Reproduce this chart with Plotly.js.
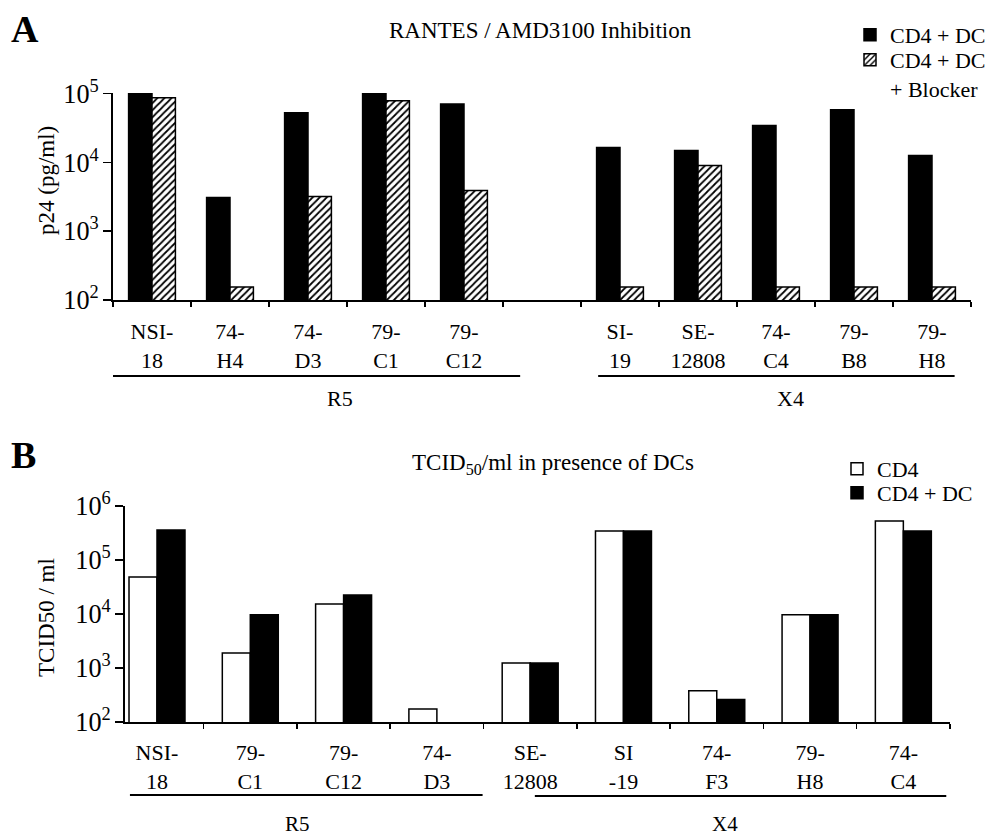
<!DOCTYPE html>
<html>
<head>
<meta charset="utf-8">
<script src="https://cdn.plot.ly/plotly-3.0.1.min.js"></script>
<style>html,body{margin:0;padding:0;background:#fff}#chart{width:998px;height:837px}</style>
</head>
<body>
<div id="chart"></div>
<script>
// ---- Panel A data: RANTES / AMD3100 inhibition, p24 (pg/ml)
const isolatesA = ['NSI-<br>18','74-<br>H4','74-<br>D3','79-<br>C1','79-<br>C12',' ','SI-<br>19','SE-<br>12808','74-<br>C4','79-<br>B8','79-<br>H8'];
const cd4dcA      = [100000, 3100, 53000, 100000, 71000, null, 16500, 14900, 34400, 58600, 12600];
const cd4dcBlockA = [87500, 155, 3200, 79000, 3900, null, 155, 9000, 155, 155, 155];

// ---- Panel B data: TCID50/ml in presence of DCs
const isolatesB = ['NSI-<br>18','79-<br>C1','79-<br>C12','74-<br>D3','SE-<br>12808','SI<br>-19','74-<br>F3','79-<br>H8','74-<br>C4'];
const cd4B   = [48400, 1900, 15300, 175, 1240, 345000, 380, 9700, 525000];
const cd4dcB = [360000, 9700, 22500, null, 1240, 345000, 260, 9700, 345000];

const groupNames = ['R5','X4'];

const serif = "'Liberation Serif', 'Times New Roman', serif";
const fnt = {family: serif, size: 22, color: '#000'};
const yfnt = {family: serif, size: 21, color: '#000'};

const traces = [
  {type:'bar', x: isolatesA, y: cd4dcA, name:'CD4 + DC', xaxis:'x', yaxis:'y', legend:'legend',
   marker:{color:'#000', line:{color:'#000', width:1.5}}},
  {type:'bar', x: isolatesA, y: cd4dcBlockA, name:'CD4 + DC<br>+ Blocker', xaxis:'x', yaxis:'y', legend:'legend2',
   marker:{color:'#fff', line:{color:'#000', width:1.5}, pattern:{shape:'/', fgcolor:'#000', bgcolor:'#fff', size:5, solidity:0.35}}},
  {type:'bar', x: isolatesB, y: cd4B, name:'CD4', xaxis:'x2', yaxis:'y2', legend:'legend3',
   marker:{color:'#fff', line:{color:'#000', width:1.5}}},
  {type:'bar', x: isolatesB, y: cd4dcB, name:'CD4 + DC', xaxis:'x2', yaxis:'y2', legend:'legend4',
   marker:{color:'#000', line:{color:'#000', width:1.5}}}
];

const W = 998, H = 837;
const px = v => v / W, py = v => 1 - v / H;

const xCommon = {
  type:'category', showline:true, linecolor:'#000', linewidth:2, ticks:'outside', ticklen:5, tickwidth:1.5,
  tickcolor:'#000', tickson:'boundaries', showgrid:false, zeroline:false, tickfont:fnt, automargin:false, fixedrange:true
};
const yCommon = {
  type:'log', showline:true, linecolor:'#000', linewidth:2, ticks:'outside', ticklen:8, tickwidth:1.5, tickcolor:'#000',
  dtick:1, exponentformat:'power', showgrid:false, zeroline:false, tickfont:yfnt, automargin:false, fixedrange:true
};

const legFont = {family:serif, size:22, color:'#000'};
const ann = (text, xref, x, y, font, extra) => Object.assign({text, xref, yref:'paper', x, y, xanchor:'center', yanchor:'middle', showarrow:false, font}, extra || {});

const layout = {
  width: W, height: H, margin:{l:0, r:0, t:0, b:0}, paper_bgcolor:'#fff', plot_bgcolor:'#fff',
  font: fnt, barmode:'group', bargap:0.4, bargroupgap:0,
  xaxis: Object.assign({}, xCommon, {domain:[px(113), px(971)], anchor:'y', range:[-0.5, 10.5], ticklabelstandoff:11}),
  yaxis: Object.assign({}, yCommon, {domain:[py(300), py(93)], anchor:'x', range:[2, 5.01]}),
  xaxis2: Object.assign({}, xCommon, {domain:[px(125), px(950)], anchor:'y2', range:[-0.343, 8.5], ticklabelstandoff:10}),
  yaxis2: Object.assign({}, yCommon, {domain:[py(722), py(506)], anchor:'x2', range:[2, 6]}),
  showlegend:true,
  legend:  {x:px(850), y:py(14), xanchor:'left', yanchor:'top', bgcolor:'rgba(0,0,0,0)', font:legFont, itemwidth:30},
  legend2: {x:px(850), y:py(39), xanchor:'left', yanchor:'top', bgcolor:'rgba(0,0,0,0)', font:legFont, itemwidth:30, valign:'top'},
  legend3: {x:px(837), y:py(448), xanchor:'left', yanchor:'top', bgcolor:'rgba(0,0,0,0)', font:legFont, itemwidth:30},
  legend4: {x:px(837), y:py(472), xanchor:'left', yanchor:'top', bgcolor:'rgba(0,0,0,0)', font:legFont, itemwidth:30},
  shapes: [
    {type:'line', xref:'x', yref:'paper', x0:-0.63, x1:4.72, y0:py(376), y1:py(376), line:{color:'#000', width:2}},
    {type:'line', xref:'x', yref:'paper', x0:5.72, x1:10.29, y0:py(376), y1:py(376), line:{color:'#000', width:2}},
    {type:'line', xref:'x2', yref:'paper', x0:-0.29, x1:3.49, y0:py(795), y1:py(795), line:{color:'#000', width:2}},
    {type:'line', xref:'x2', yref:'paper', x0:4.05, x1:8.46, y0:py(796), y1:py(796), line:{color:'#000', width:2}}
  ],
  annotations: [
    ann('<b>A</b>', 'paper', px(25), py(29), {family:serif, size:38, color:'#000'}),
    ann('RANTES / AMD3100 Inhibition', 'paper', px(540), py(31), {family:serif, size:23, color:'#000'}),
    ann('p24 (pg/ml)', 'paper', px(47), py(181), {family:serif, size:23, color:'#000'}, {textangle:-90}),
    ann('<b>B</b>', 'paper', px(23), py(455), {family:serif, size:38, color:'#000'}),
    ann('TCID<sub>50</sub>/ml in presence of DCs', 'paper', px(553), py(464), {family:serif, size:23, color:'#000'}),
    ann('TCID50 / ml', 'paper', px(46), py(618), {family:serif, size:23, color:'#000'}, {textangle:-90}),
    ann(groupNames[0], 'x', 2.41, py(398), fnt),
    ann(groupNames[1], 'x', 8.18, py(398), fnt),
    ann(groupNames[0], 'x2', 1.51, py(824), {family:serif, size:21, color:'#000'}),
    ann(groupNames[1], 'x2', 6.09, py(824), {family:serif, size:21, color:'#000'})
  ]
};

Plotly.newPlot('chart', traces, layout, {displayModeBar:false, staticPlot:true});
</script>
</body>
</html>
